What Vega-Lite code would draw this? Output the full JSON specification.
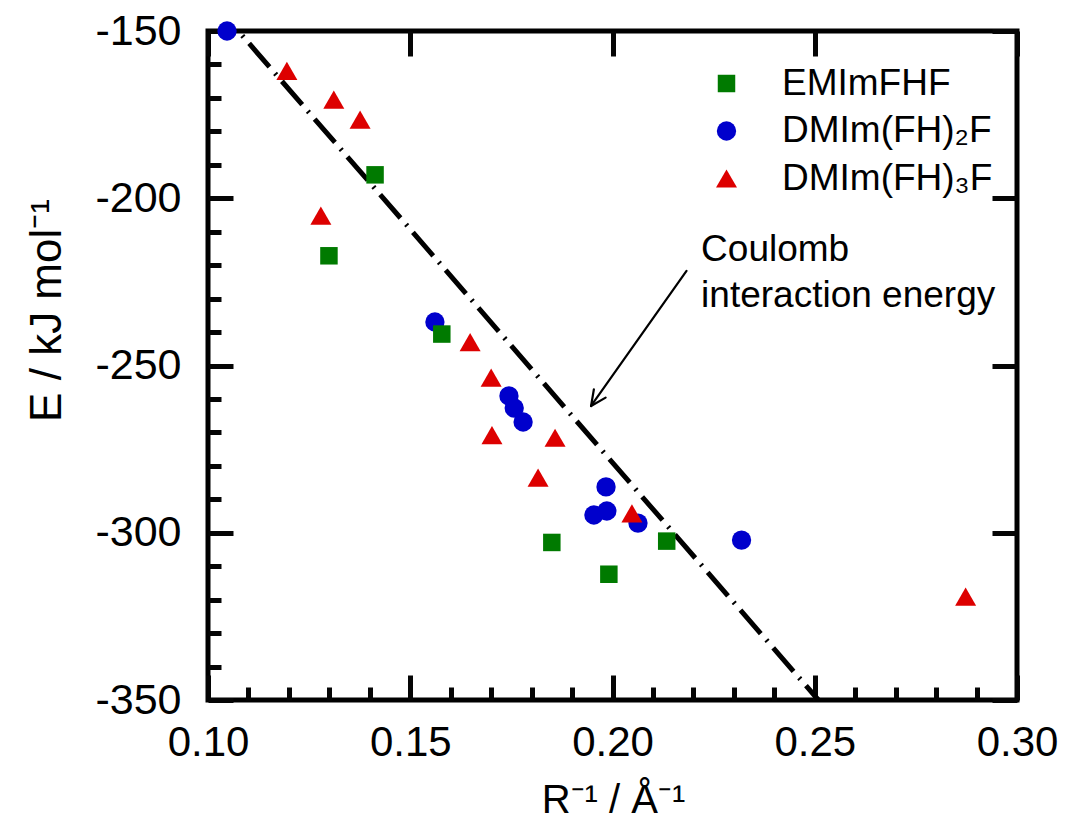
{
  "$schema": "https://vega.github.io/schema/vega-lite/v6.json",
  "width": 809,
  "height": 669,
  "autosize": "none",
  "padding": {"left": 208, "top": 31, "right": 48, "bottom": 121},
  "background": "white",
  "config": {
    "view": {"stroke": "black", "strokeWidth": 5},
    "font": "Liberation Sans"
  },
  "datasets": {
    "pts": [
      {"series": "DMIm(FH)₂F", "x": 0.1047, "y": -150},
      {"series": "DMIm(FH)₂F", "x": 0.1561, "y": -237},
      {"series": "DMIm(FH)₂F", "x": 0.1744, "y": -259.1},
      {"series": "DMIm(FH)₂F", "x": 0.1757, "y": -262.7},
      {"series": "DMIm(FH)₂F", "x": 0.1779, "y": -266.9},
      {"series": "DMIm(FH)₂F", "x": 0.1984, "y": -286.3},
      {"series": "DMIm(FH)₂F", "x": 0.1954, "y": -294.7},
      {"series": "DMIm(FH)₂F", "x": 0.1986, "y": -293.5},
      {"series": "DMIm(FH)₂F", "x": 0.2063, "y": -297.1},
      {"series": "DMIm(FH)₂F", "x": 0.2319, "y": -302.2},
      {"series": "EMImFHF", "x": 0.1413, "y": -193},
      {"series": "EMImFHF", "x": 0.1299, "y": -217.2},
      {"series": "EMImFHF", "x": 0.1578, "y": -240.6},
      {"series": "EMImFHF", "x": 0.185, "y": -302.9},
      {"series": "EMImFHF", "x": 0.2134, "y": -302.5},
      {"series": "EMImFHF", "x": 0.1991, "y": -312.4},
      {"series": "DMIm(FH)₃F", "x": 0.1195, "y": -161.9},
      {"series": "DMIm(FH)₃F", "x": 0.1311, "y": -170.5},
      {"series": "DMIm(FH)₃F", "x": 0.1376, "y": -176.5},
      {"series": "DMIm(FH)₃F", "x": 0.1279, "y": -205.2},
      {"series": "DMIm(FH)₃F", "x": 0.1648, "y": -243},
      {"series": "DMIm(FH)₃F", "x": 0.17, "y": -253.6},
      {"series": "DMIm(FH)₃F", "x": 0.1702, "y": -270.8},
      {"series": "DMIm(FH)₃F", "x": 0.1858, "y": -271.6},
      {"series": "DMIm(FH)₃F", "x": 0.1816, "y": -283.5},
      {"series": "DMIm(FH)₃F", "x": 0.2048, "y": -294.2},
      {"series": "DMIm(FH)₃F", "x": 0.2873, "y": -319.1}
    ],
    "coulomb": [
      {"x": 0.1075, "y": -150},
      {"x": 0.2509, "y": -350}
    ],
    "arrow": [
      {"x": 0.2183, "y": -221.7, "x2": 0.1947, "y2": -262.1},
      {"x": 0.1947, "y": -262.1, "x2": 0.1983, "y2": -259.6},
      {"x": 0.1947, "y": -262.1, "x2": 0.1954, "y2": -257.1}
    ],
    "notes": [
      {"x": 0.2219, "y": -218.8, "label": "Coulomb"},
      {"x": 0.2219, "y": -232.5, "label": "interaction energy"}
    ]
  },
  "resolve": {"axis": {"x": "independent", "y": "independent"}},
  "layer": [
    {
      "data": {"name": "coulomb"},
      "mark": {"type": "line", "color": "black", "strokeWidth": 5, "strokeDash": [31, 8.5, 2, 8.5], "strokeDashOffset": 33.5, "strokeCap": "butt"},
      "encoding": {
        "x": {
          "field": "x", "type": "quantitative",
          "scale": {"domain": [0.1, 0.3], "nice": false, "zero": false},
          "axis": {
            "orient": "bottom", "domain": false, "grid": false,
            "values": [0.1, 0.15, 0.2, 0.25, 0.3], "format": ".2f",
            "tickColor": "#050505", "tickWidth": 5, "tickSize": -25,
            "labelFontSize": 42, "labelColor": "black", "labelPadding": 47, "labelFlush": false,
            "title": "R⁻¹ / Å⁻¹", "titleFontSize": 40, "titleFontWeight": "normal", "titleColor": "black",
            "titleX": 405, "titleY": 112, "titleBaseline": "alphabetic", "titleAlign": "center"
          }
        },
        "y": {
          "field": "y", "type": "quantitative",
          "scale": {"domain": [-350, -150], "nice": false, "zero": false},
          "axis": {
            "orient": "left", "domain": false, "grid": false,
            "values": [-350, -300, -250, -200, -150],
            "labelExpr": "replace(datum.label, '−', '-')",
            "tickColor": "#050505", "tickWidth": 5, "tickSize": -25,
            "labelFontSize": 43, "labelColor": "black", "labelPadding": 52, "labelFlush": false,
            "title": "E / kJ mol⁻¹", "titleFontSize": 44, "titleFontWeight": "normal", "titleColor": "black",
            "titleX": -148, "titleY": 279, "titleAngle": -90,
            "titleBaseline": "alphabetic", "titleAlign": "center"
          }
        }
      }
    },
    {
      "data": {"name": "pts"},
      "mark": {"type": "point", "filled": true, "opacity": 1, "strokeWidth": 0},
      "encoding": {
        "x": {"field": "x", "type": "quantitative", "scale": {"domain": [0.1, 0.3], "nice": false, "zero": false}, "axis": null},
        "y": {"field": "y", "type": "quantitative", "scale": {"domain": [-350, -150], "nice": false, "zero": false}, "axis": null},
        "color": {
          "field": "series", "type": "nominal",
          "scale": {"domain": ["EMImFHF", "DMIm(FH)₂F", "DMIm(FH)₃F"], "range": ["#007A00", "#0000CC", "#DD0000"]},
          "legend": {
            "orient": "none", "legendX": 500, "legendY": 34, "title": null,
            "symbolSize": 900, "symbolStrokeWidth": 0,
            "labelFontSize": 37, "labelColor": "black",
            "labelOffset": 37, "rowPadding": 9.5, "padding": 0, "labelLimit": 0
          }
        },
        "shape": {
          "field": "series", "type": "nominal",
          "scale": {"domain": ["EMImFHF", "DMIm(FH)₂F", "DMIm(FH)₃F"], "range": ["square", "circle", "triangle-up"]},
          "legend": {
            "orient": "none", "legendX": 500, "legendY": 34, "title": null,
            "symbolSize": 900, "symbolStrokeWidth": 0,
            "labelFontSize": 37, "labelColor": "black",
            "labelOffset": 37, "rowPadding": 9.5, "padding": 0, "labelLimit": 0
          }
        },
        "size": {
          "field": "series", "type": "nominal",
          "scale": {"domain": ["EMImFHF", "DMIm(FH)₂F", "DMIm(FH)₃F"], "range": [306, 441, 729]},
          "legend": null
        }
      }
    },
    {
      "data": {"name": "arrow"},
      "mark": {"type": "rule", "color": "black", "strokeWidth": 2.2, "strokeCap": "round"},
      "encoding": {
        "x": {
          "field": "x", "type": "quantitative",
          "scale": {"domain": [0.1, 0.3], "nice": false, "zero": false},
          "axis": {
            "orient": "top", "labels": false, "domain": false, "grid": false, "title": null,
            "values": [0.1, 0.15, 0.2, 0.25, 0.3],
            "tickColor": "#050505", "tickWidth": 5, "tickSize": -25
          }
        },
        "y": {
          "field": "y", "type": "quantitative",
          "scale": {"domain": [-350, -150], "nice": false, "zero": false},
          "axis": {
            "orient": "right", "labels": false, "domain": false, "grid": false, "title": null,
            "values": [-350, -300, -250, -200, -150],
            "tickColor": "#050505", "tickWidth": 5, "tickSize": -25
          }
        },
        "x2": {"field": "x2"},
        "y2": {"field": "y2"}
      }
    },
    {
      "data": {"name": "notes"},
      "mark": {"type": "text", "align": "left", "baseline": "alphabetic", "fontSize": 37, "color": "black"},
      "encoding": {
        "x": {
          "field": "x", "type": "quantitative",
          "scale": {"domain": [0.1, 0.3], "nice": false, "zero": false},
          "axis": {
            "orient": "bottom", "labels": false, "domain": false, "grid": false, "title": null,
            "values": [0.11, 0.12, 0.13, 0.14, 0.16, 0.17, 0.18, 0.19, 0.21, 0.22, 0.23, 0.24, 0.26, 0.27, 0.28, 0.29],
            "tickColor": "#050505", "tickWidth": 5, "tickSize": -13
          }
        },
        "y": {
          "field": "y", "type": "quantitative",
          "scale": {"domain": [-350, -150], "nice": false, "zero": false},
          "axis": {
            "orient": "left", "labels": false, "domain": false, "grid": false, "title": null,
            "values": [-340, -330, -320, -310, -290, -280, -270, -260, -240, -230, -220, -210, -190, -180, -170, -160],
            "tickColor": "#050505", "tickWidth": 5, "tickSize": -13
          }
        },
        "text": {"field": "label"}
      }
    }
  ]
}
